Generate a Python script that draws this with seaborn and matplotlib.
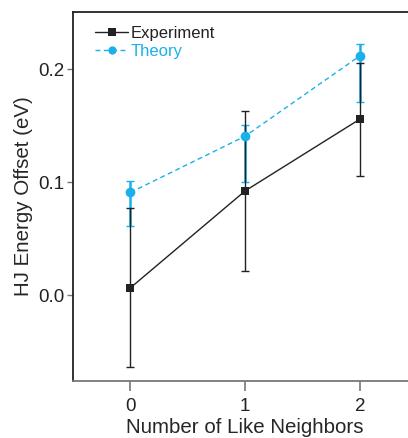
import matplotlib
matplotlib.use("Agg")
import matplotlib.pyplot as plt
import seaborn as sns
import pandas as pd
import numpy as np

neighbors = [0, 1, 2]
exp_vals = [0.0065, 0.0923, 0.1558]
exp_err = [0.0705, 0.0705, 0.050]
theory_vals = [0.0909, 0.1407, 0.2118]
theory_err_low = [0.030, 0.041, 0.041]
theory_err_high = [0.010, 0.010, 0.010]
xticks = [0, 1, 2]
yticks = [0.0, 0.1, 0.2]

sns.set_style("ticks")
plt.rcParams['font.family'] = ['Liberation Sans', 'DejaVu Sans']

BLUE = "#19B0EC"
DARK = "#222222"

fig = plt.figure(figsize=(4.08, 4.38), dpi=100)
ax = fig.add_axes([0.179, 0.130, 0.844, 0.8425])

df = pd.DataFrame({
    "x": neighbors * 2,
    "y": exp_vals + theory_vals,
    "series": ["Experiment"] * 3 + ["Theory"] * 3,
})

# error bars
ax.errorbar(neighbors, theory_vals, yerr=[theory_err_low, theory_err_high],
            fmt="none", ecolor=BLUE, elinewidth=1.8, capsize=3, capthick=1.0, zorder=2)
ax.errorbar(neighbors, exp_vals, yerr=exp_err, fmt="none", ecolor=DARK,
            elinewidth=1.0, capsize=3, capthick=1.0, zorder=3)

sns.lineplot(data=df[df.series == "Theory"], x="x", y="y", ax=ax, color=BLUE,
             linestyle=(0, (3.5, 2.5)), linewidth=1.0, marker="o", markersize=7,
             markeredgewidth=0, label="Theory", zorder=4)
sns.lineplot(data=df[df.series == "Experiment"], x="x", y="y", ax=ax, color=DARK,
             linewidth=1.0, marker="s", markersize=6, markeredgewidth=0,
             label="Experiment", zorder=5)

ax.set_xlim(-0.5, 2.5)
ax.set_ylim(-0.076, 0.2505)
ax.set_xticks(xticks)
ax.set_xticklabels([str(t) for t in xticks])
ax.set_yticks(yticks)
ax.set_yticklabels([f"{t:.1f}" for t in yticks])

ax.set_xlabel("Number of Like Neighbors", fontsize=14.8, labelpad=2)
ax.set_ylabel("HJ Energy Offset (eV)", fontsize=14.8, labelpad=4)

for s in ["top", "right"]:
    ax.spines[s].set_visible(True)
ax.spines["top"].set_color(DARK)
ax.spines["left"].set_color(DARK)
ax.spines["bottom"].set_color("#777777")
ax.spines["right"].set_color(DARK)
for s in ax.spines.values():
    s.set_linewidth(1.3)

ax.tick_params(axis="x", length=7, width=1.2, color="#777777", labelsize=13.5, pad=5,
               labelcolor="#222222")
ax.tick_params(axis="y", length=4, width=1.0, color="#777777", labelsize=13.5, pad=2,
               labelcolor="#222222")

handles, labels = ax.get_legend_handles_labels()
order = [labels.index("Experiment"), labels.index("Theory")]
leg = ax.legend([handles[i] for i in order], [labels[i] for i in order],
                loc="upper left", frameon=False, fontsize=12, handlelength=2.0,
                handletextpad=0.15, borderaxespad=0.3, labelspacing=0.22,
                markerscale=0.85, bbox_to_anchor=(0.03, 0.995))
for txt, col in zip(leg.get_texts(), [DARK, BLUE]):
    txt.set_color(col)

fig.savefig("out.png", dpi=100)
